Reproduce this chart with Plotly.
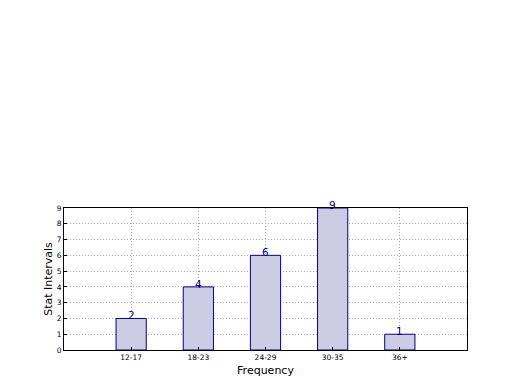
import plotly.graph_objects as go

categories = ["12-17", "18-23", "24-29", "30-35", "36+"]
values = [2, 4, 6, 9, 1]
y_ticks = list(range(0, 10))

fig = go.Figure()
fig.add_trace(go.Bar(
    x=list(range(len(categories))), y=values, width=0.45,
    marker=dict(color="rgba(204,204,229,1)", line=dict(color="#00007f", width=1)),
    showlegend=False,
))
for i, v in enumerate(values):
    fig.add_annotation(x=i, y=v, text=str(v), showarrow=False, yanchor="bottom",
                       yshift=-5, font=dict(family="DejaVu Sans", size=10.5, color="#00007f"))

axis_common = dict(showline=True, linecolor="black", linewidth=1, mirror=True,
                   ticks="inside", ticklen=3, tickcolor="black",
                   showgrid=True, gridcolor="#a8a8a8", griddash="1px,2px", gridwidth=1,
                   zeroline=False, tickfont=dict(family="DejaVu Sans", size=7.5, color="black"))

fig.update_xaxes(range=[-1, 5], tickvals=list(range(len(categories))), ticktext=categories,
                 title=dict(text="Frequency", font=dict(family="DejaVu Sans", size=11, color="black"), standoff=5),
                 **axis_common)
fig.update_yaxes(range=[0, 9], tickvals=y_ticks, ticktext=[str(t) for t in y_ticks],
                 title=dict(text="Stat Intervals", font=dict(family="DejaVu Sans", size=11, color="black"), standoff=1),
                 **axis_common)
fig.update_layout(width=512, height=382, margin=dict(l=56, r=53, t=200, b=40),
                  paper_bgcolor="white", plot_bgcolor="white")
fig.write_html("out.html")
